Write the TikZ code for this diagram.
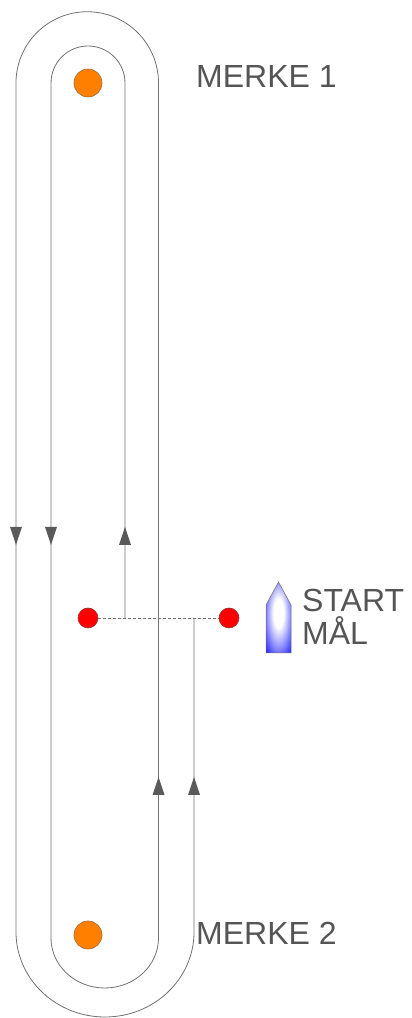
\documentclass[tikz,border=0pt]{standalone}
\usepackage{fontspec}
\setmainfont{Liberation Sans}
\definecolor{linegray}{HTML}{707070}
\definecolor{arrgray}{HTML}{5A5A5A}
\definecolor{txtgray}{HTML}{555555}
\definecolor{markorange}{HTML}{FF8000}
\definecolor{markedge}{HTML}{9A6A3A}
\definecolor{buoyedge}{HTML}{993333}
\pgfdeclareradialshading{boatshade}{\pgfpoint{0bp}{4bp}}{%
  color(0bp)=(white); color(10bp)=(white); color(40bp)=(blue); color(50bp)=(blue)}
\tikzset{
  course/.style={draw=linegray, line width=0.8pt},
  arrowhead/.style={fill=arrgray, draw=none},
  markbuoy/.style={circle, fill=markorange, draw=markedge, line width=0.6pt, minimum size=28pt, inner sep=0pt},
  startbuoy/.style={circle, fill=red, draw=buoyedge, line width=0.6pt, minimum size=20pt, inner sep=0pt},
  label/.style={anchor=base west, inner sep=0pt, text=txtgray, font=\fontsize{32pt}{36pt}\selectfont},
  startline/.style={draw=linegray, dashed, dash pattern=on 3pt off 2pt, line width=0.6pt}
}
\begin{document}
\begin{tikzpicture}[x=1pt,y=1pt]
\useasboundingbox (0,0) rectangle (412,1018);
% course lines
\draw[course] (125,400) -- (125,935)
  arc[start angle=0,end angle=180,radius=37]
  -- (51,80)
  arc[start angle=180,end angle=360,x radius=53.75,y radius=50]
  -- (158.5,935)
  arc[start angle=0,end angle=180,radius=71.25]
  -- (16,86)
  arc[start angle=180,end angle=360,x radius=89,y radius=85]
  -- (194,400);
% arrowheads
\fill[arrowhead] (16,473) -- (10,491) -- (22,491) -- cycle;
\fill[arrowhead] (51,473) -- (45,491) -- (57,491) -- cycle;
\fill[arrowhead] (125,491) -- (119,473) -- (131,473) -- cycle;
\fill[arrowhead] (158.5,241) -- (152.5,223) -- (164.5,223) -- cycle;
\fill[arrowhead] (194,241) -- (188,223) -- (200,223) -- cycle;
% marks
\node[markbuoy] (m1) at (88,935) {};
\node[markbuoy] (m2) at (88,83) {};
% start line
\node[startbuoy] (s1) at (88,400) {};
\node[startbuoy] (s2) at (229,400) {};
\draw[startline] (s1) -- (s2);
% boat
\shade[shading=boatshade, draw=linegray, line width=0.5pt]
  (278.5,436) -- (291,413) -- (291,365) -- (266,365) -- (266,413) -- cycle;
% labels
\node[label] (t1) at (196,930) {MERKE 1};
\node[label] (t2) at (196,73) {MERKE 2};
\node[label] (t3) at (302,406) {START};
\node[label] (t4) at (302,373) {MÅL};
\end{tikzpicture}
\end{document}
